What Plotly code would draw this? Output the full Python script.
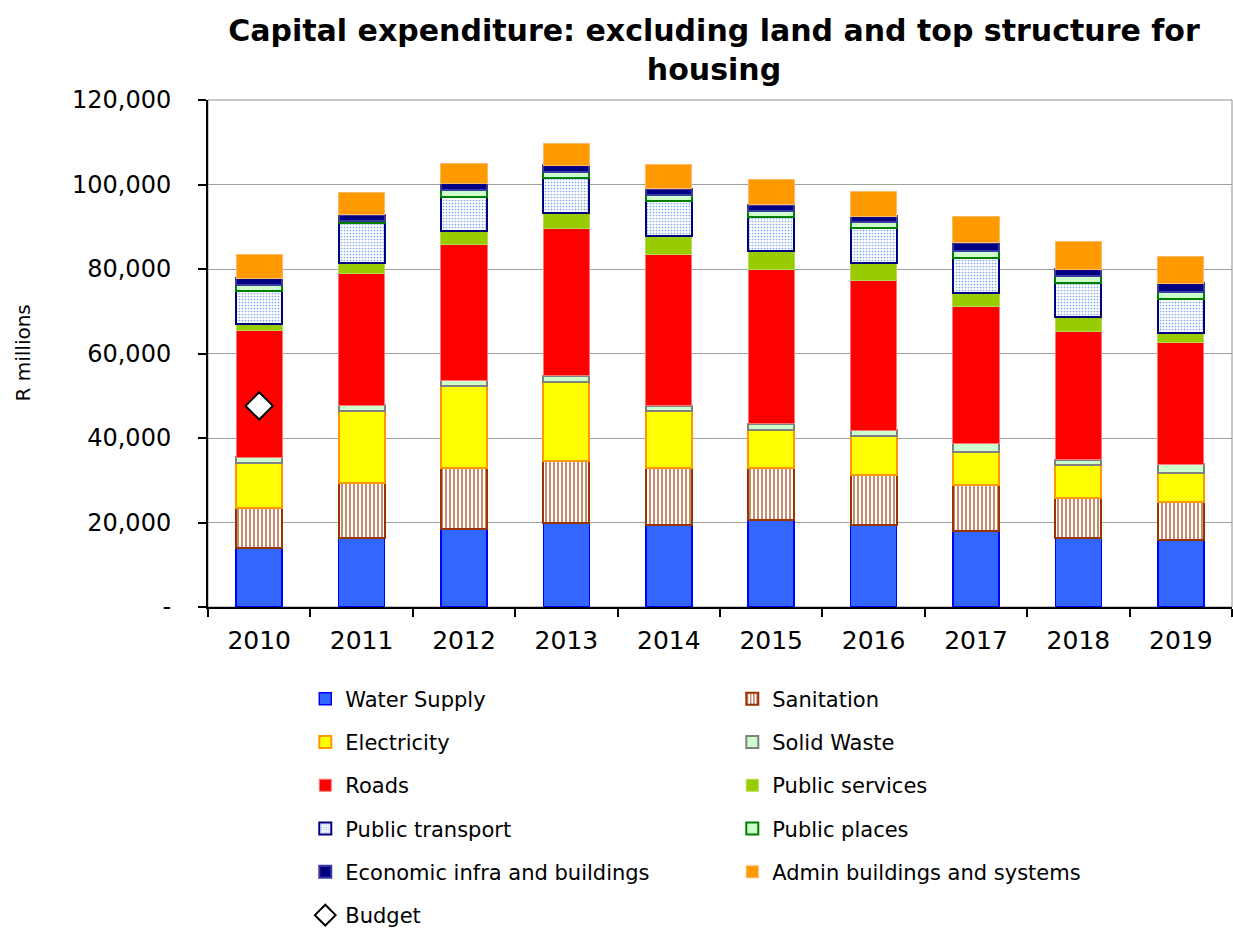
import plotly.graph_objects as go

years = ["2010", "2011", "2012", "2013", "2014", "2015", "2016", "2017", "2018", "2019"]
water_supply = [14000, 16400, 18500, 20000, 19500, 20500, 19500, 17900, 16300, 15800]
sanitation = [9400, 12900, 14500, 14500, 13400, 12400, 11800, 10900, 9500, 9100]
electricity = [10700, 17100, 19300, 18700, 13400, 9100, 9100, 7900, 7700, 6900]
solid_waste = [1400, 1400, 1400, 1500, 1300, 1400, 1400, 2000, 1400, 2000]
roads = [30000, 31200, 32000, 34900, 35900, 36500, 35400, 32500, 30400, 28900]
public_services = [1600, 2500, 3400, 3700, 4400, 4300, 4300, 3200, 3300, 2200]
public_transport = [7700, 9300, 8000, 8200, 8100, 8100, 8200, 8300, 8200, 8100]
public_places = [1400, 600, 1600, 1400, 1400, 1400, 1400, 1500, 1500, 1600]
economic_infra = [1600, 1400, 1600, 1700, 1600, 1500, 1400, 2000, 1600, 2000]
admin_buildings = [5700, 5300, 4700, 5200, 5800, 5900, 5900, 6300, 6700, 6300]
budget = [47600, None, None, None, None, None, None, None, None, None]

y_tick_vals = [0, 20000, 40000, 60000, 80000, 100000, 120000]
y_tick_text = ["-", "20,000", "40,000", "60,000", "80,000", "100,000", "120,000"]

FONT = "DejaVu Sans"

series = [
    ("Water Supply", water_supply, dict(color="#3366FF", line=dict(color="#0000FF", width=1.5)), "legend"),
    ("Sanitation", sanitation, dict(color="white", line=dict(color="#993300", width=2),
                                     pattern=dict(shape="|", fgcolor="#B05A30", bgcolor="white", size=4, solidity=0.35)), "legend2"),
    ("Electricity", electricity, dict(color="#FFFF00", line=dict(color="#FF9900", width=2)), "legend"),
    ("Solid Waste", solid_waste, dict(color="#CCFFCC", line=dict(color="#808080", width=2)), "legend2"),
    ("Roads", roads, dict(color="#FF0000", line=dict(color="#FF7777", width=1)), "legend"),
    ("Public services", public_services, dict(color="#99CC00", line=dict(color="#B5DA55", width=1)), "legend2"),
    ("Public transport", public_transport, dict(color="white", line=dict(color="#000080", width=2),
                                                pattern=dict(shape=".", fgcolor="#7AA6F0", bgcolor="white", size=3, solidity=0.25)), "legend"),
    ("Public places", public_places, dict(color="#CCFFCC", line=dict(color="#008000", width=2)), "legend2"),
    ("Economic infra and buildings", economic_infra, dict(color="#000080", line=dict(color="#3A3AA0", width=2)), "legend"),
    ("Admin buildings and systems", admin_buildings, dict(color="#FF9900", line=dict(color="#FFB866", width=1)), "legend2"),
]

fig = go.Figure()
for name, vals, marker, leg in series:
    fig.add_trace(go.Bar(
        x=years, y=vals, name=name, marker=marker, legend=leg, legendgroup=name,
    ))

fig.add_trace(go.Scatter(
    x=years, y=budget, name="Budget", mode="markers", legend="legend", legendgroup="Budget",
    marker=dict(symbol="diamond", size=21, color="white", line=dict(color="black", width=2)),
))

legend_common = dict(
    orientation="v", traceorder="grouped", tracegroupgap=13,
    font=dict(family=FONT, size=21, color="black"),
    bgcolor="rgba(0,0,0,0)", yanchor="top", xanchor="left", itemclick=False,
)

fig.update_layout(
    width=1233, height=930,
    template="none",
    paper_bgcolor="white", plot_bgcolor="white",
    margin=dict(l=208, r=1, t=100, b=323, autoexpand=False),
    barmode="stack", bargap=0.55,
    title=dict(
        text="<b>Capital expenditure: excluding land and top structure for<br>housing</b>",
        font=dict(family=FONT, size=30, color="black"),
        x=714 / 1233, xanchor="center", xref="container",
        y=0.956, yanchor="top", yref="container",
    ),
    showlegend=True,
    legend=dict(x=0.095, y=-0.141, **legend_common),
    legend2=dict(x=0.512, y=-0.141, **legend_common),
    xaxis=dict(
        type="category", range=[-0.5, 9.5], showline=True, linecolor="black", linewidth=2,
        ticks="outside", tickson="boundaries", ticklen=8, tickwidth=2, tickcolor="black",
        tickfont=dict(family=FONT, size=25, color="black"),
        ticklabelstandoff=10,
        showgrid=False, zeroline=False,
    ),
    yaxis=dict(
        range=[0, 120000], tickvals=y_tick_vals, ticktext=y_tick_text,
        showline=True, linecolor="black", linewidth=2,
        ticks="outside", ticklen=8, tickwidth=2, tickcolor="black",
        tickfont=dict(family=FONT, size=24, color="black"),
        ticklabelstandoff=22,
        showgrid=True, gridcolor="#A0A0A0", gridwidth=1, zeroline=False,
    ),
    annotations=[dict(
        text="R millions", xref="paper", yref="paper", x=(22 - 208) / 1024, y=0.5,
        textangle=-90, showarrow=False, xanchor="center", yanchor="middle",
        font=dict(family=FONT, size=20, color="black"),
    )],
    shapes=[dict(type="rect", xref="paper", yref="paper", x0=0, x1=1, y0=0, y1=1,
                 line=dict(color="#909090", width=1), layer="below")],
)

fig.write_html("out.html")
